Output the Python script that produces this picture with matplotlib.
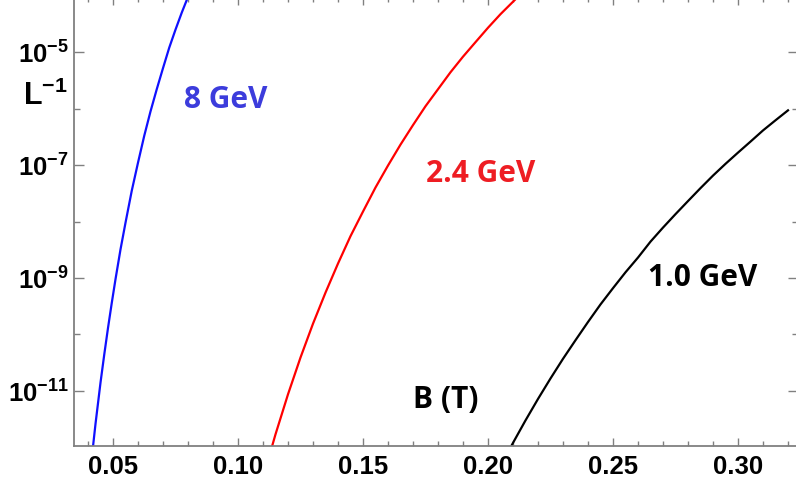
import matplotlib
matplotlib.use("Agg")
import matplotlib.pyplot as plt
import numpy as np
from matplotlib.ticker import FixedLocator, MultipleLocator, FuncFormatter

plt.rcParams['mathtext.fontset'] = 'custom'
plt.rcParams['mathtext.rm'] = 'Liberation Sans'
plt.rcParams['mathtext.bf'] = 'Liberation Sans:bold'

# B (T) and L^-1
b_8 = [0.041, 0.043, 0.045, 0.0465, 0.048, 0.0495, 0.051, 0.053, 0.055, 0.0575, 0.060,
       0.0625, 0.065, 0.0675, 0.070, 0.0725, 0.075, 0.0775, 0.080, 0.083]
l_8 = [4.1e-13, 2.6e-12, 1.4e-11, 4.4e-11, 1.3e-10, 3.6e-10, 9.5e-10, 3.2e-9, 9.5e-9, 3.5e-8, 1.1e-7,
       3.3e-7, 8.9e-7, 2.2e-6, 5.2e-6, 1.2e-5, 2.5e-5, 5.0e-5, 9.5e-5, 2.0e-4]

b_24 = [0.110, 0.115, 0.120, 0.125, 0.130, 0.135, 0.140, 0.145, 0.150, 0.155, 0.160, 0.165,
        0.170, 0.175, 0.180, 0.185, 0.190, 0.195, 0.200, 0.205, 0.210, 0.215, 0.220]
l_24 = [2.9e-13, 1.7e-12, 8.7e-12, 3.9e-11, 1.55e-10, 5.5e-10, 1.8e-9, 5.5e-9, 1.5e-8, 4.0e-8, 9.8e-8, 2.3e-7,
        5.1e-7, 1.1e-6, 2.2e-6, 4.4e-6, 8.3e-6, 1.5e-5, 2.7e-5, 4.7e-5, 7.8e-5, 1.3e-4, 2.1e-4]

b_10 = [0.205, 0.210, 0.215, 0.220, 0.225, 0.230, 0.235, 0.240, 0.245, 0.250, 0.255, 0.260, 0.265,
        0.270, 0.275, 0.280, 0.285, 0.290, 0.295, 0.300, 0.305, 0.310, 0.315, 0.320]
l_10 = [4.6e-13, 1.2e-12, 3.0e-12, 7.2e-12, 1.66e-11, 3.7e-11, 7.9e-11, 1.66e-10, 3.4e-10, 6.6e-10, 1.26e-9,
        2.3e-9, 4.4e-9, 7.8e-9, 1.35e-8, 2.3e-8, 3.9e-8, 6.5e-8, 1.05e-7, 1.66e-7, 2.6e-7, 4.1e-7, 6.2e-7, 9.3e-7]

labels = ["8 GeV", "2.4 GeV", "1.0 GeV"]
label_x = [0.0952, 0.1972, 0.286]
label_y = [1.5e-6, 7.1e-8, 1.05e-9]
label_colors = ["#3c3cdc", "#ee1d23", "black"]

fig = plt.figure(figsize=(7.96, 4.85), dpi=100)
ax = fig.add_axes([74/796, 38/485, 724/796, 449/485])

ax.plot(b_8, l_8, color="#1010ff", lw=1.6)
ax.plot(b_24, l_24, color="#ff0000", lw=1.6)
ax.plot(b_10, l_10, color="black", lw=1.6)

ax.set_yscale("log")
ax.set_xlim(0.0344, 0.3240)
ax.set_ylim(10**-11.976, 10**-4.024)

ax.xaxis.set_major_locator(MultipleLocator(0.05))
ax.xaxis.set_minor_locator(MultipleLocator(0.01))
ax.xaxis.set_major_formatter(FuncFormatter(lambda v, p: "%.2f" % v))
ax.yaxis.set_major_locator(FixedLocator([1e-11, 1e-9, 1e-7, 1e-5]))
ax.yaxis.set_minor_locator(FixedLocator([1e-12, 1e-10, 1e-8, 1e-6, 1e-4]))
ax.yaxis.set_major_formatter(FuncFormatter(lambda v, p: r"$\mathbf{10^{%d}}$" % round(np.log10(v))))
ax.yaxis.set_minor_formatter(FuncFormatter(lambda v, p: ""))

gray = "#808080"
for s in ax.spines.values():
    s.set_color(gray)
    s.set_linewidth(1.3)
ax.tick_params(which="both", direction="in", top=True, right=True, color=gray, width=1.0)
ax.tick_params(which="major", axis="y", length=7)
ax.tick_params(which="minor", axis="y", length=4)
ax.tick_params(which="major", axis="x", length=6)
ax.tick_params(which="minor", axis="x", length=3.5)
ax.tick_params(axis="x", labelsize=18.5, pad=6)
ax.tick_params(axis="y", labelsize=18.5, pad=4)
for t in ax.get_xticklabels():
    t.set_fontfamily("Liberation Sans")
    t.set_fontweight("bold")

for txt, x, y, c in zip(labels, label_x, label_y, label_colors):
    ax.text(x, y, txt, color=c, fontsize=21.5, fontweight="bold", family="Open Sans",
            ha="center", va="center")
ax.text(0.1832, 10**-11.14, "B (T)", color="black", fontsize=21.5, fontweight="bold",
        family="Open Sans", ha="center", va="center")
fig.text(45/796, 1 - 95/485, r"$\mathbf{L^{-1}}$", fontsize=22, ha="center", va="center")

fig.savefig("out.png", dpi=100)
